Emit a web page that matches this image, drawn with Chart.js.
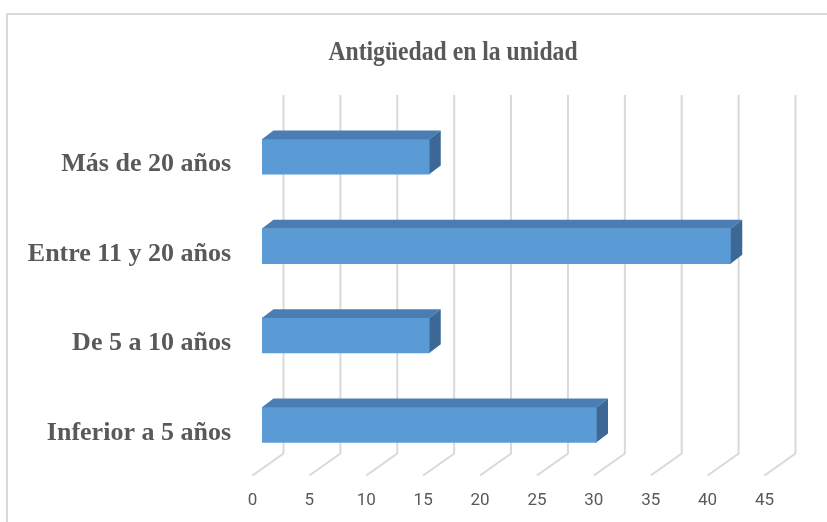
<!DOCTYPE html>
<html>
<head>
<meta charset="utf-8">
<script src="https://cdn.jsdelivr.net/npm/chart.js@4.4.1/dist/chart.umd.min.js"></script>
<style>
html,body{margin:0;padding:0;background:#fff;}
#c{display:block;}
</style>
</head>
<body>
<canvas id="c" width="827" height="522"></canvas>
<script>
const titleText = 'Antigüedad en la unidad';
const categories = ['Más de 20 años', 'Entre 11 y 20 años', 'De 5 a 10 años', 'Inferior a 5 años'];
const values = [14.7, 41.2, 14.7, 29.4];
const xMin = 0, xMax = 45, xStep = 5;

const DX = 11.5, DY = -8.7;          // bar depth offset
const FLOOR_FRONT = -9.5, FLOOR_BACK = 21.5; // floor grid offsets relative to scale pixel
const TEXT = '#595959', GRID = '#D9D9D9';

const deco = {
  id: 'deco',
  beforeDraw(chart) {
    const ctx = chart.ctx;
    ctx.save();
    ctx.fillStyle = '#fff';
    ctx.fillRect(0, 0, chart.width, chart.height);
    ctx.strokeStyle = GRID;
    ctx.lineWidth = 2;
    ctx.beginPath();
    ctx.moveTo(7, 530); ctx.lineTo(7, 14); ctx.lineTo(840, 14);
    ctx.stroke();
    // title (condensed horizontally like the original)
    ctx.fillStyle = TEXT;
    ctx.font = 'bold 28px "Liberation Serif", "Times New Roman", serif';
    ctx.textAlign = 'center';
    ctx.textBaseline = 'middle';
    ctx.translate(453, 53);
    ctx.scale(0.845, 1);
    ctx.fillText(titleText, 0, 0);
    ctx.restore();
  },
  beforeDatasetsDraw(chart) {
    const ctx = chart.ctx, xs = chart.scales.x, area = chart.chartArea;
    const backBottom = area.bottom - 16;
    const frontBottom = backBottom + 22;
    const top = area.top - 17;
    ctx.save();
    ctx.strokeStyle = GRID;
    ctx.lineWidth = 2;
    for (let v = xMin; v <= xMax; v += xStep) {
      const px = xs.getPixelForValue(v);
      ctx.beginPath();
      ctx.moveTo(px + FLOOR_FRONT, frontBottom);
      ctx.lineTo(px + FLOOR_BACK, backBottom);
      ctx.lineTo(px + FLOOR_BACK, top);
      ctx.stroke();
    }
    ctx.restore();
  },
  afterDatasetsDraw(chart) {
    const ctx = chart.ctx;
    const meta = chart.getDatasetMeta(0);
    ctx.save();
    meta.data.forEach(bar => {
      const p = bar.getProps(['x', 'y', 'base', 'height'], true);
      const t = p.y - p.height / 2, b = p.y + p.height / 2;
      // top face
      ctx.fillStyle = '#4A7DB3';
      ctx.beginPath();
      ctx.moveTo(p.base, t);
      ctx.lineTo(p.x, t);
      ctx.lineTo(p.x + DX, t + DY);
      ctx.lineTo(p.base + DX, t + DY);
      ctx.closePath();
      ctx.fill();
      // side face
      ctx.fillStyle = '#3B6894';
      ctx.beginPath();
      ctx.moveTo(p.x, t);
      ctx.lineTo(p.x + DX, t + DY);
      ctx.lineTo(p.x + DX, b + DY);
      ctx.lineTo(p.x, b);
      ctx.closePath();
      ctx.fill();
    });
    ctx.restore();
  }
};

new Chart(document.getElementById('c'), {
  type: 'bar',
  data: {
    labels: categories,
    datasets: [{
      data: values,
      backgroundColor: '#5B9BD5',
      borderWidth: 0,
      barThickness: 35
    }]
  },
  options: {
    indexAxis: 'y',
    responsive: false,
    animation: false,
    devicePixelRatio: 1,
    layout: { padding: { top: 112, right: 53, bottom: 11, left: 0 } },
    plugins: { legend: { display: false }, title: { display: false }, tooltip: { enabled: false } },
    scales: {
      x: {
        min: xMin, max: xMax,
        border: { display: false },
        grid: { display: false, drawTicks: false },
        ticks: {
          stepSize: xStep,
          color: TEXT,
          font: { family: 'Roboto', size: 17 },
          padding: 21,
          labelOffset: -9.5,
          maxRotation: 0
        },
        afterFit(s) { s.height = 41.5; }
      },
      y: {
        border: { display: false },
        grid: { display: false, drawTicks: false },
        ticks: {
          color: TEXT,
          font: { family: '"Liberation Serif", "Times New Roman", serif', size: 26, weight: 'bold' },
          padding: 31,
          labelOffset: 8
        },
        afterFit(s) { s.width = 262; }
      }
    }
  },
  plugins: [deco]
});
</script>
</body>
</html>
